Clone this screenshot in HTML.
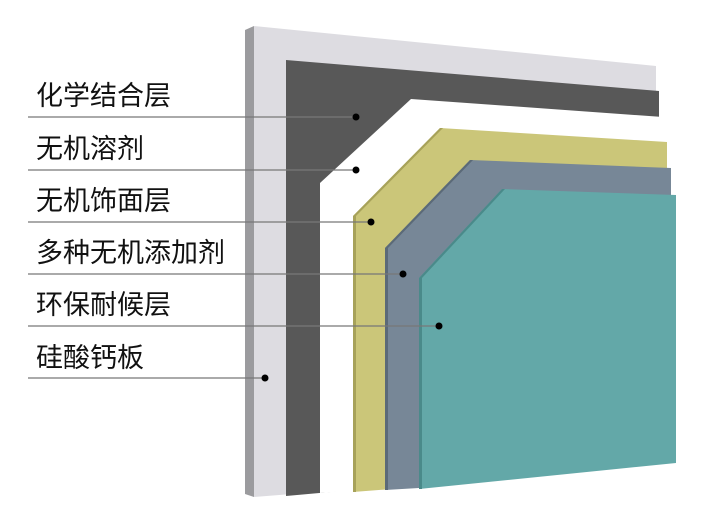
<!DOCTYPE html>
<html><head><meta charset="utf-8"><style>
html,body{margin:0;padding:0;background:#fff;}
svg{display:block}
text{font-family:"Liberation Sans","Noto Sans CJK SC",sans-serif;font-size:27px;fill:#111;font-weight:400}
</style></head><body>
<svg width="720" height="532" viewBox="0 0 720 532">
<polygon points="245,30 254,26 254,497 245,494" fill="#9b9b9e"/>
<polygon points="254,26 656,66 656,460 419,484 254,497" fill="#dddce1"/>
<polygon points="286,60 659,91 659,460 419,484 286,496" fill="#585858"/>
<polygon points="411,99 663,117 663,460 419,486 320,493 320,183" fill="#ffffff"/>
<polygon points="440,128 667,142 667,460 419,487 353,492 353,216" fill="#cbc679"/>
<polygon points="353,216 440,128 443,128 356,216 356,492 353,492" fill="#a7a25a"/>
<polygon points="470,160 671,168 671,460 419,488 385,490 385,248" fill="#778797"/>
<polygon points="385,248 470,160 473,160 388,248 388,490 385,490" fill="#5b6a78"/>
<polygon points="502,189 676,195 676,463 419,489 419,278" fill="#63a8a8"/>
<polygon points="419,278 502,189 505,189 422,278 422,489 419,489" fill="#4a8a8a"/>
<g stroke="#777" stroke-width="1.3">
<line x1="28" y1="117" x2="356" y2="117"/>
<line x1="28" y1="170" x2="356" y2="170"/>
<line x1="28" y1="222" x2="371" y2="222"/>
<line x1="28" y1="274" x2="403" y2="274"/>
<line x1="28" y1="326" x2="439" y2="326"/>
<line x1="28" y1="378" x2="265" y2="378"/>
</g>
<g fill="#000">
<circle cx="356" cy="117" r="3.5"/><circle cx="356" cy="170" r="3.5"/>
<circle cx="371" cy="222" r="3.5"/><circle cx="403" cy="274" r="3.5"/>
<circle cx="439" cy="326" r="3.5"/><circle cx="265" cy="378" r="3.5"/>
</g>
<text x="36" y="105">化学结合层</text>
<text x="36" y="158">无机溶剂</text>
<text x="36" y="210">无机饰面层</text>
<text x="36" y="262">多种无机添加剂</text>
<text x="36" y="314">环保耐候层</text>
<text x="36" y="367">硅酸钙板</text>
</svg>
</body></html>
